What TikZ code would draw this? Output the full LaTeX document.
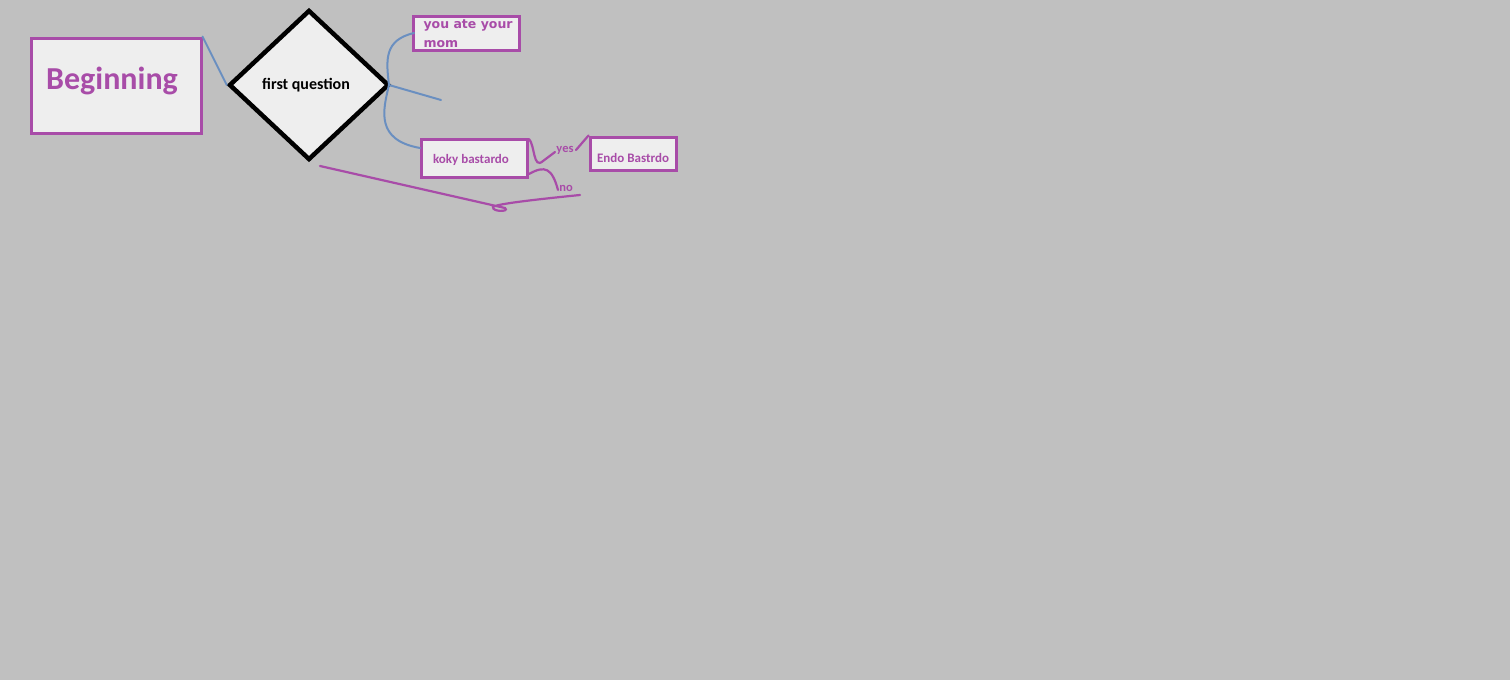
\documentclass[tikz,border=0pt]{standalone}
\usepackage{fontspec}
\setmainfont{Carlito}
\newfontfamily\boxfont{DejaVu Sans}
\usetikzlibrary{shapes.geometric}
\definecolor{canvas}{RGB}{192,192,192}
\definecolor{plum}{RGB}{168,76,168}
\definecolor{steel}{RGB}{106,143,192}
\definecolor{paper}{RGB}{238,238,238}
\begin{document}
\begin{tikzpicture}[x=1pt,y=-1pt,
  panel/.style={draw=plum,line width=3pt,fill=paper,inner sep=0pt},
  plumtext/.style={text=plum,font=\bfseries},
  bluelink/.style={draw=steel,line width=2pt,line cap=round},
  plumlink/.style={draw=plum,line width=2.2pt,line cap=round}]
  % canvas
  \fill[canvas] (0,0) rectangle (1510,680);
  \useasboundingbox (0,0) rectangle (1510,680);

  % boxes
  \node[panel,minimum width=170pt,minimum height=95pt] (begin) at (116,85.5) {};
  \node[plumtext,font=\bfseries\fontsize{32}{34}\selectfont] at (112,81) {Beginning};

  \node[draw=black,line width=4.5pt,fill=paper,diamond,minimum width=160pt,minimum height=150pt,inner sep=0pt] (q) at (309,85) {};
  \node[font=\bfseries\fontsize{16}{18}\selectfont] at (306,85) {first question};

  \node[panel,minimum width=106pt,minimum height=34pt] (mom) at (466,33) {};
  \node[plumtext,font=\boxfont\bfseries\fontsize{12.5}{19}\selectfont,align=left,anchor=west] at (420,33.5) {you ate your\\mom};

  \node[panel,minimum width=106pt,minimum height=38pt] (koky) at (474,158) {};
  \node[plumtext,font=\bfseries\fontsize{13}{15}\selectfont] at (471,160) {koky bastardo};

  \node[panel,minimum width=86pt,minimum height=33pt] (endo) at (633,153.5) {};
  \node[plumtext,font=\bfseries\fontsize{13}{15}\selectfont] at (633,158) {Endo Bastrdo};

  % labels
  \node[plumtext,font=\bfseries\fontsize{12.5}{14}\selectfont] (yes) at (565,150) {yes};
  \node[plumtext,font=\bfseries\fontsize{12.5}{14}\selectfont] (no) at (566,188) {no};

  % blue connectors
  \coordinate (qr) at (389,85);
  \coordinate (stub) at (441,100);
  \draw[bluelink] (begin.north east) -- (q.west);
  \draw[bluelink] (qr) .. controls (386,60) and (384,40) .. (414,33);
  \draw[bluelink] (qr) .. controls (383,110) and (375,140) .. (420,148);
  \draw[bluelink] (qr) -- (stub);

  % purple connectors
  \coordinate (yesA) at (529,139);
  \coordinate (yesB) at (576,150);
  \coordinate (noA) at (529,174);
  \coordinate (noB) at (558,190);
  \draw[plumlink] (yesA) .. controls (535,145) and (533,170) .. (543,161) -- (555,152);
  \draw[plumlink] (yesB) -- (endo.north west);
  \draw[plumlink] (noA) .. controls (545,165) and (552,168) .. (noB);
  \coordinate (tail) at (320,166);
  \coordinate (end) at (580,195);
  \draw[plumlink] (tail) -- (505,208) .. controls (510,212) and (492,212) .. (493,207)
        .. controls (495,204) and (540,199) .. (end);
\end{tikzpicture}
\end{document}
